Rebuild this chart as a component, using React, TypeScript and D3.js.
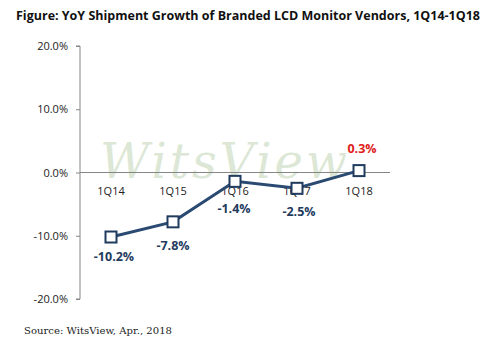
import React, { useEffect, useRef } from 'react';
import * as d3 from 'd3';

const quarters = ['1Q14', '1Q15', '1Q16', '1Q17', '1Q18'];
const growth = [-10.2, -7.8, -1.4, -2.5, 0.3];
const yTicks = [20, 10, 0, -10, -20];

export default function App() {
  const svgRef = useRef<SVGSVGElement>(null);

  useEffect(() => {
    const width = 499;
    const height = 352;
    const svg = d3.select(svgRef.current).attr('width', width).attr('height', height);
    svg.selectAll('*').remove();

    svg.append('rect').attr('width', width).attr('height', height).attr('fill', '#fff');

    const left = 80, right = 390, top = 46, bottom = 299;
    const x = d3.scaleBand().domain(quarters).range([left, right]);
    const y = d3.scaleLinear().domain([-20, 20]).range([bottom, top]);
    const cx = (q: string) => (x(q) as number) + x.bandwidth() / 2;

    // Title
    svg.append('text').attr('x', 16).attr('y', 20)
      .attr('font-family', 'Open Sans, sans-serif').attr('font-weight', 700).attr('font-size', '12.5px')
      .attr('fill', '#111').attr('textLength', 464).attr('lengthAdjust', 'spacingAndGlyphs')
      .text('Figure: YoY Shipment Growth of Branded LCD Monitor Vendors, 1Q14-1Q18');

    // Watermark
    svg.append('text').attr('x', 100).attr('y', 178)
      .attr('font-family', 'DejaVu Serif, serif').attr('font-style', 'italic').attr('font-size', '48px')
      .attr('fill', '#a9c49a').attr('opacity', 0.4)
      .attr('textLength', 247).attr('lengthAdjust', 'spacing')
      .text('WitsView');

    // Y axis
    const axis = svg.append('g').attr('transform', `translate(${left},0)`)
      .call(d3.axisLeft(y).tickValues(yTicks).tickSize(4).tickPadding(8)
        .tickFormat(d => `${(+d).toFixed(1)}%`));
    axis.select('.domain').attr('stroke', '#868686').attr('d', `M-4,${top}H0V${bottom}H-4`);
    axis.selectAll('.tick line').attr('stroke', '#868686');
    axis.selectAll('.tick text').attr('fill', '#222').attr('font-size', '11px')
      .attr('font-family', 'Open Sans, sans-serif');

    // Zero line
    svg.append('line').attr('x1', left).attr('x2', right).attr('y1', y(0)).attr('y2', y(0))
      .attr('stroke', '#868686').attr('stroke-width', 1);

    // Category labels
    svg.append('g').selectAll('text').data(quarters).join('text')
      .attr('x', d => cx(d)).attr('y', y(0) + 22).attr('text-anchor', 'middle')
      .attr('font-family', 'Open Sans, sans-serif').attr('font-size', '11px').attr('fill', '#222')
      .text(d => d);

    const pts = quarters.map((q, i) => ({ q, v: growth[i] }));

    // Line
    const line = d3.line<{ q: string; v: number }>().x(d => cx(d.q)).y(d => y(d.v));
    svg.append('path').datum(pts).attr('fill', 'none').attr('stroke', '#2a4a72')
      .attr('stroke-width', 3).attr('d', line);

    // Markers
    const s = 11;
    svg.append('g').selectAll('rect').data(pts).join('rect')
      .attr('x', d => cx(d.q) - s / 2).attr('y', d => y(d.v) - s / 2)
      .attr('width', s).attr('height', s).attr('fill', '#fff')
      .attr('stroke', '#1f3b5e').attr('stroke-width', 2);

    // Data labels
    const offsets = [19.5, 24, 27, 23, -22];
    const dxs = [3, 0, -1, 2, 3];
    svg.append('g').selectAll('text').data(pts).join('text')
      .attr('x', (d, i) => cx(d.q) + dxs[i]).attr('y', (d, i) => y(d.v) + offsets[i] + 4.5)
      .attr('text-anchor', 'middle').attr('font-family', 'Open Sans, sans-serif')
      .attr('font-weight', 700).attr('font-size', '12.5px')
      .attr('fill', d => (d.v > 0 ? '#e02020' : '#1f3b5e'))
      .text(d => `${d.v.toFixed(1)}%`);

    // Source
    svg.append('text').attr('x', 24).attr('y', 334)
      .attr('font-family', 'DejaVu Serif, serif').attr('font-size', '10px').attr('fill', '#222')
      .attr('textLength', 148).attr('lengthAdjust', 'spacingAndGlyphs')
      .text('Source: WitsView, Apr., 2018');
  }, []);

  return (
    <div style={{ position: 'absolute', left: 0, top: 0 }}>
      <svg ref={svgRef} style={{ display: 'block' }} />
    </div>
  );
}
